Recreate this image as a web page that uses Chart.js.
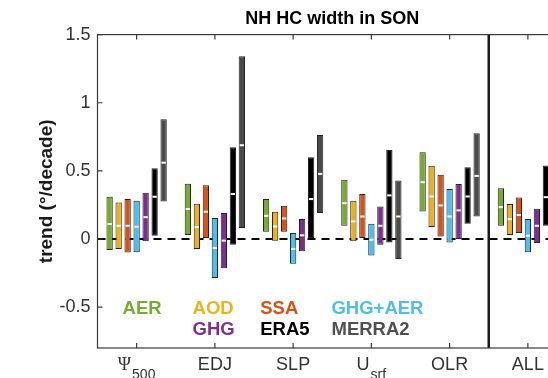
<!DOCTYPE html>
<html>
<head>
<meta charset="utf-8">
<script src="https://cdn.jsdelivr.net/npm/chart.js@4.4.1/dist/chart.umd.min.js"></script>
<style>
  html, body { margin: 0; padding: 0; overflow: hidden; background: #fff; }
  #wrap { width: 580px; height: 378px; }
</style>
</head>
<body>
<div id="wrap"><canvas id="trendChart" width="580" height="378"></canvas></div>
<script>
// Categorias do eixo x (texto principal + subscrito)
const categories = ["Ψ500", "EDJ", "SLP", "Usrf", "OLR", "ALL"];
const labelMain = ["Ψ", "EDJ", "SLP", "U", "OLR", "ALL"];
const labelSub = ["500", "", "", "srf", "", ""];

// Ticks do eixo y
const yTicks = [-0.5, 0, 0.5, 1, 1.5];

// Séries: faixa [min, max] e mediana por categoria (°/decade)
const aerRange = [[-0.08, 0.31], [0.03, 0.405], [0.053, 0.293], [0.097, 0.434], [0.202, 0.637], [0.097, 0.373]];
const aerMedian = [0.11, 0.22, 0.17, 0.263, 0.417, 0.234];

const aodRange = [[-0.073, 0.268], [-0.073, 0.258], [-0.012, 0.2], [-0.017, 0.28], [0.088, 0.537], [0.029, 0.256]];
const aodMedian = [0.097, 0.088, 0.092, 0.129, 0.312, 0.146];

const ssaRange = [[-0.1, 0.293], [0.007, 0.395], [0.053, 0.244], [0.007, 0.331], [0.019, 0.471], [0.044, 0.305]];
const ssaMedian = [0.097, 0.2, 0.151, 0.165, 0.246, 0.176];

const ghgAerRange = [[-0.098, 0.28], [-0.286, 0.154], [-0.181, 0.044], [-0.122, 0.112], [-0.025, 0.366], [-0.098, 0.146]];
const ghgAerMedian = [0.09, -0.066, -0.073, -0.005, 0.165, 0.024];

const ghgRange = [[-0.017, 0.34], [-0.215, 0.19], [-0.09, 0.146], [-0.042, 0.239], [0.0, 0.403], [-0.029, 0.222]];
const ghgMedian = [0.16, -0.012, 0.027, 0.097, 0.21, 0.097];

const era5Range = [[0.024, 0.52], [-0.042, 0.673], [0.007, 0.6], [-0.025, 0.654], [0.112, 0.527], [0.097, 0.539]];
const era5Median = [0.31, 0.33, 0.293, 0.32, 0.312, 0.307];

const merra2Range = [[0.275, 0.878], [0.08, 1.342], [0.19, 0.763], [-0.146, 0.43], [0.165, 0.776], [0.15, 0.75]];
const merra2Median = [0.56, 0.688, 0.478, 0.165, 0.463, 0.45];

const seriesNames = ["AER", "AOD", "SSA", "GHG+AER", "GHG", "ERA5", "MERRA2"];
const seriesColors = ["#77ac30", "#edb120", "#d95319", "#4dbeee", "#7e2f8e", "#000000", "#4a4a4a"];
const seriesRanges = [aerRange, aodRange, ssaRange, ghgAerRange, ghgRange, era5Range, merra2Range];
const seriesMedians = [aerMedian, aodMedian, ssaMedian, ghgAerMedian, ghgMedian, era5Median, merra2Median];

// Posição da legenda (coluna / linha) dentro do gráfico
const legendCol = [0, 1, 2, 3, 1, 2, 3];
const legendRow = [0, 0, 0, 0, 1, 1, 1];

const FONT = "'Liberation Sans', Arial, sans-serif";

// Plugin: linha tracejada do zero, medianas, caixa, ticks internos, rótulos x e legenda
const decorations = {
  id: "decorations",
  beforeDatasetsDraw(chart) {
    const { ctx, chartArea: a, scales: { y } } = chart;
    const y0 = y.getPixelForValue(0);
    ctx.save();
    ctx.strokeStyle = "#000";
    ctx.lineWidth = 2;
    ctx.setLineDash([8, 6]);
    ctx.beginPath();
    ctx.moveTo(a.left, y0);
    ctx.lineTo(a.right, y0);
    ctx.stroke();
    ctx.restore();
  },
  afterDatasetsDraw(chart) {
    const { ctx, chartArea: a, scales: { x, y } } = chart;
    ctx.save();

    // medianas (linha branca)
    chart.data.datasets.forEach((ds, i) => {
      chart.getDatasetMeta(i).data.forEach((bar, j) => {
        const py = y.getPixelForValue(ds.medians[j]);
        ctx.fillStyle = "#fff";
        ctx.fillRect(bar.x - bar.width / 2 + 1, py - 1, bar.width - 2, 2);
      });
    });

    // separador entre OLR e ALL
    const sepX = (x.getPixelForValue(4) + x.getPixelForValue(5)) / 2;
    ctx.strokeStyle = "#1a1a1a";
    ctx.lineWidth = 2.5;
    ctx.beginPath();
    ctx.moveTo(sepX, a.top);
    ctx.lineTo(sepX, a.bottom);
    ctx.stroke();

    // caixa e ticks internos (estilo MATLAB)
    ctx.strokeStyle = "#3a3a3a";
    ctx.lineWidth = 1.2;
    ctx.strokeRect(a.left, a.top, a.right - a.left, a.bottom - a.top);
    ctx.beginPath();
    yTicks.forEach((v) => {
      const py = y.getPixelForValue(v);
      ctx.moveTo(a.left, py);
      ctx.lineTo(a.left + 5, py);
    });
    categories.forEach((_, i) => {
      const px = x.getPixelForValue(i);
      ctx.moveTo(px, a.bottom);
      ctx.lineTo(px, a.bottom - 5);
      ctx.moveTo(px, a.top);
      ctx.lineTo(px, a.top + 5);
    });
    ctx.stroke();

    // rótulos do eixo x com subscrito
    ctx.fillStyle = "#333";
    ctx.textBaseline = "alphabetic";
    ctx.textAlign = "left";
    const base = a.bottom + 22;
    labelMain.forEach((main, i) => {
      const mainFont = main === "Ψ" ? "18px 'Liberation Serif', serif" : "18px " + FONT;
      const subFont = "14px " + FONT;
      ctx.font = mainFont;
      const wMain = ctx.measureText(main).width;
      ctx.font = subFont;
      const wSub = labelSub[i] ? ctx.measureText(labelSub[i]).width + 1 : 0;
      const left = x.getPixelForValue(i) - (wMain + wSub) / 2;
      ctx.font = mainFont;
      ctx.fillText(main, left, base);
      if (labelSub[i]) {
        ctx.font = subFont;
        ctx.fillText(labelSub[i], left + wMain + 1, base + 9);
      }
    });

    // legenda
    const colX = [-0.18, 0.715, 1.58, 2.49];
    const rowY = [-0.51, -0.67];
    ctx.font = "bold 18.5px " + FONT;
    ctx.textBaseline = "middle";
    seriesNames.forEach((name, i) => {
      ctx.fillStyle = seriesColors[i] === "#4a4a4a" ? "#505050" : seriesColors[i];
      ctx.fillText(name, x.getPixelForValue(colX[legendCol[i]]), y.getPixelForValue(rowY[legendRow[i]]));
    });

    ctx.restore();
  },
};

const datasets = seriesNames.map((name, i) => ({
  label: name,
  data: seriesRanges[i],
  medians: seriesMedians[i],
  backgroundColor: seriesColors[i],
  borderColor: "#222",
  borderWidth: 1,
  borderSkipped: false,
  categoryPercentage: 0.805,
  barPercentage: 0.7,
}));

new Chart(document.getElementById("trendChart"), {
  type: "bar",
  data: { labels: categories, datasets: datasets },
  plugins: [decorations],
  options: {
    responsive: false,
    animation: false,
    layout: { padding: { left: 0, right: 13, top: 0, bottom: 30 } },
    plugins: {
      legend: { display: false },
      tooltip: { enabled: false },
      title: {
        display: true,
        fullSize: false,
        text: "NH HC width in SON",
        color: "#000",
        font: { family: FONT, size: 18, weight: "bold" },
        padding: { top: 8, bottom: 5 },
      },
    },
    scales: {
      x: { display: false },
      y: {
        min: -0.8,
        max: 1.5,
        afterBuildTicks: (scale) => {
          scale.ticks = yTicks.map((v) => ({ value: v }));
        },
        afterFit: (scale) => {
          scale.width = 97.5;
        },
        grid: { display: false, drawTicks: false },
        border: { display: false },
        ticks: {
          color: "#333",
          padding: 7,
          font: { family: FONT, size: 18 },
          callback: (v) => String(v),
        },
        title: {
          display: true,
          text: "trend (°/decade)",
          color: "#1a1a1a",
          font: { family: FONT, size: 19, weight: "bold" },
          padding: { top: 35, bottom: 0 },
        },
      },
    },
  },
});
</script>
</body>
</html>
